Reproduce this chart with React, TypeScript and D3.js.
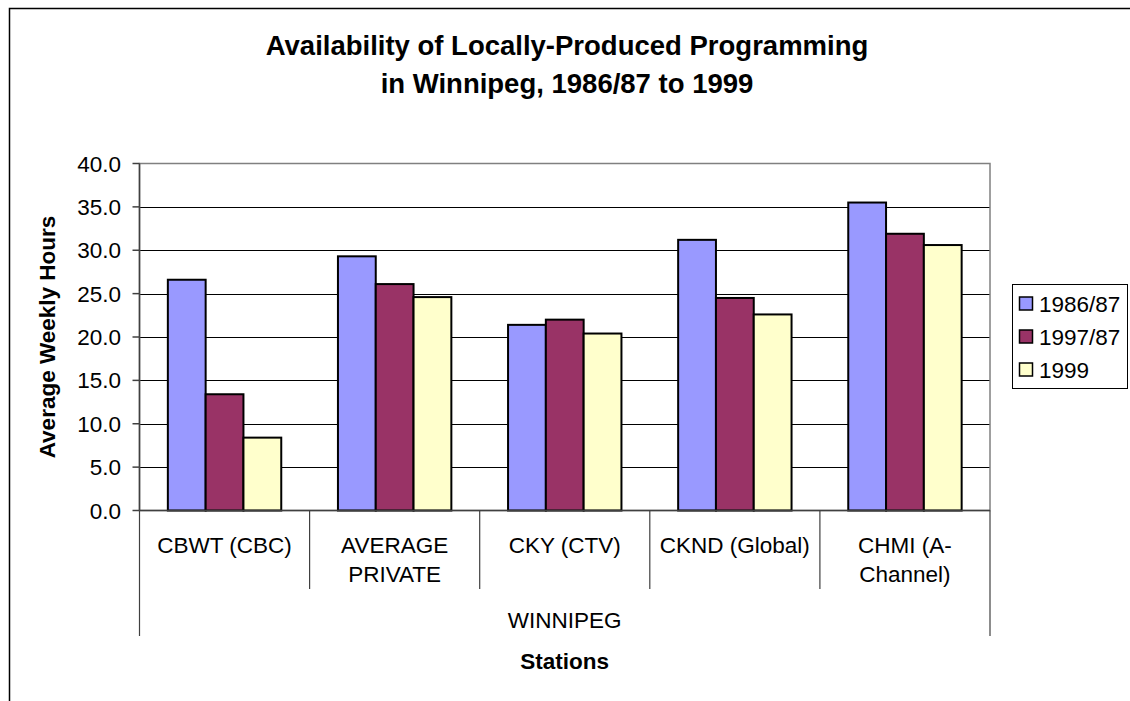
import React from "react";
import * as d3 from "d3";

const categories = ["CBWT (CBC)", "AVERAGE PRIVATE", "CKY (CTV)", "CKND (Global)", "CHMI (A-Channel)"];
const categoryLines = [["CBWT (CBC)"], ["AVERAGE", "PRIVATE"], ["CKY (CTV)"], ["CKND (Global)"], ["CHMI (A-", "Channel)"]];
const groupLabel = "WINNIPEG";
const seriesNames = ["1986/87", "1997/87", "1999"];
const values1986 = [26.6, 29.3, 21.4, 31.2, 35.5];
const values1997 = [13.4, 26.1, 22.0, 24.5, 31.9];
const values1999 = [8.4, 24.6, 20.4, 22.6, 30.6];
const seriesColors = ["#9999FF", "#993366", "#FFFFCC"];
const yTicks = [0, 5, 10, 15, 20, 25, 30, 35, 40];
const title1 = "Availability of Locally-Produced Programming";
const title2 = "in Winnipeg, 1986/87 to 1999";
const yTitle = "Average Weekly Hours";
const xTitle = "Stations";

const FONT = "'Liberation Sans', Arial, Helvetica, sans-serif";

export default function App() {
  const W = 1130, H = 701;
  const left = 139.5, right = 990, top = 163.5, bottom = 510.5;
  const seriesValues = [values1986, values1997, values1999];

  const y = d3.scaleLinear().domain([0, 40]).range([bottom, top]);
  const x0 = d3.scaleBand<string>().domain(categories).range([left, right]).padding(0);
  const bw = x0.bandwidth();
  const gap = (bw / 4.5) * 0.75;
  const x1 = d3.scaleBand<string>().domain(seriesNames).range([gap, bw - gap]).padding(0);
  const fmt = d3.format(".1f");

  return (
    <svg width={W} height={H} style={{ position: "absolute", left: 0, top: 0, background: "#fff" }} fontFamily={FONT}>
      <rect x={9.5} y={8.5} width={1140} height={720} fill="#fff" stroke="#000" strokeWidth={1.5} />
      <text x={567} y={55} textAnchor="middle" fontSize={27.5} fontWeight="bold">{title1}</text>
      <text x={567} y={93} textAnchor="middle" fontSize={27.5} fontWeight="bold">{title2}</text>

      {/* gridlines */}
      {yTicks.filter(t => t > 0 && t < 40).map(t => (
        <line key={"g" + t} x1={left} x2={right} y1={Math.round(y(t)) + 0.5} y2={Math.round(y(t)) + 0.5} stroke="#000" strokeWidth={1} />
      ))}
      <rect x={left} y={top} width={right - left} height={bottom - top} fill="none" stroke="#808080" strokeWidth={1.5} />

      {/* y axis */}
      <line x1={left} x2={left} y1={top} y2={bottom} stroke="#404040" strokeWidth={1.5} />
      {yTicks.map(t => (
        <g key={"t" + t}>
          <line x1={left - 7} x2={left} y1={y(t)} y2={y(t)} stroke="#404040" strokeWidth={1.5} />
          <text x={121} y={y(t) + 8} textAnchor="end" fontSize={22.5}>{fmt(t)}</text>
        </g>
      ))}
      <text transform={`translate(55,${(top + bottom) / 2}) rotate(-90)`} textAnchor="middle" fontSize={22.5} fontWeight="bold">{yTitle}</text>

      {/* bars */}
      {categories.map((c, i) => (
        <g key={c} transform={`translate(${x0(c)},0)`}>
          {seriesNames.map((s, j) => (
            <rect key={s} x={x1(s)} y={y(seriesValues[j][i])} width={x1.bandwidth()} height={y(0) - y(seriesValues[j][i])}
              fill={seriesColors[j]} stroke="#000" strokeWidth={2} />
          ))}
        </g>
      ))}

      {/* x axis */}
      <line x1={left} x2={right} y1={bottom} y2={bottom} stroke="#404040" strokeWidth={1.5} />
      {categories.map((c, i) => i > 0 ? (
        <line key={"sep" + i} x1={x0(c)} x2={x0(c)} y1={bottom} y2={589} stroke="#404040" strokeWidth={1.2} />
      ) : null)}
      <line x1={left} x2={left} y1={bottom} y2={636} stroke="#404040" strokeWidth={1.2} />
      <line x1={right} x2={right} y1={bottom} y2={636} stroke="#404040" strokeWidth={1.2} />
      {categories.map((c, i) => (
        <text key={"l" + c} x={(x0(c) as number) + bw / 2} textAnchor="middle" fontSize={22.5}>
          {categoryLines[i].map((ln, k) => (
            <tspan key={k} x={(x0(c) as number) + bw / 2} y={553 + k * 28.5}>{ln}</tspan>
          ))}
        </text>
      ))}
      <text x={(left + right) / 2} y={628} textAnchor="middle" fontSize={22.5}>{groupLabel}</text>
      <text x={(left + right) / 2} y={669} textAnchor="middle" fontSize={22.5} fontWeight="bold">{xTitle}</text>

      {/* legend */}
      <rect x={1012.5} y={284.5} width={115} height={104} fill="#fff" stroke="#000" strokeWidth={1} />
      {seriesNames.map((s, j) => (
        <g key={"lg" + s}>
          <rect x={1019.5} y={297 + j * 33} width={13} height={13} fill={seriesColors[j]} stroke="#000" strokeWidth={1.5} />
          <text x={1039} y={312 + j * 33} fontSize={22.5}>{s}</text>
        </g>
      ))}
    </svg>
  );
}
